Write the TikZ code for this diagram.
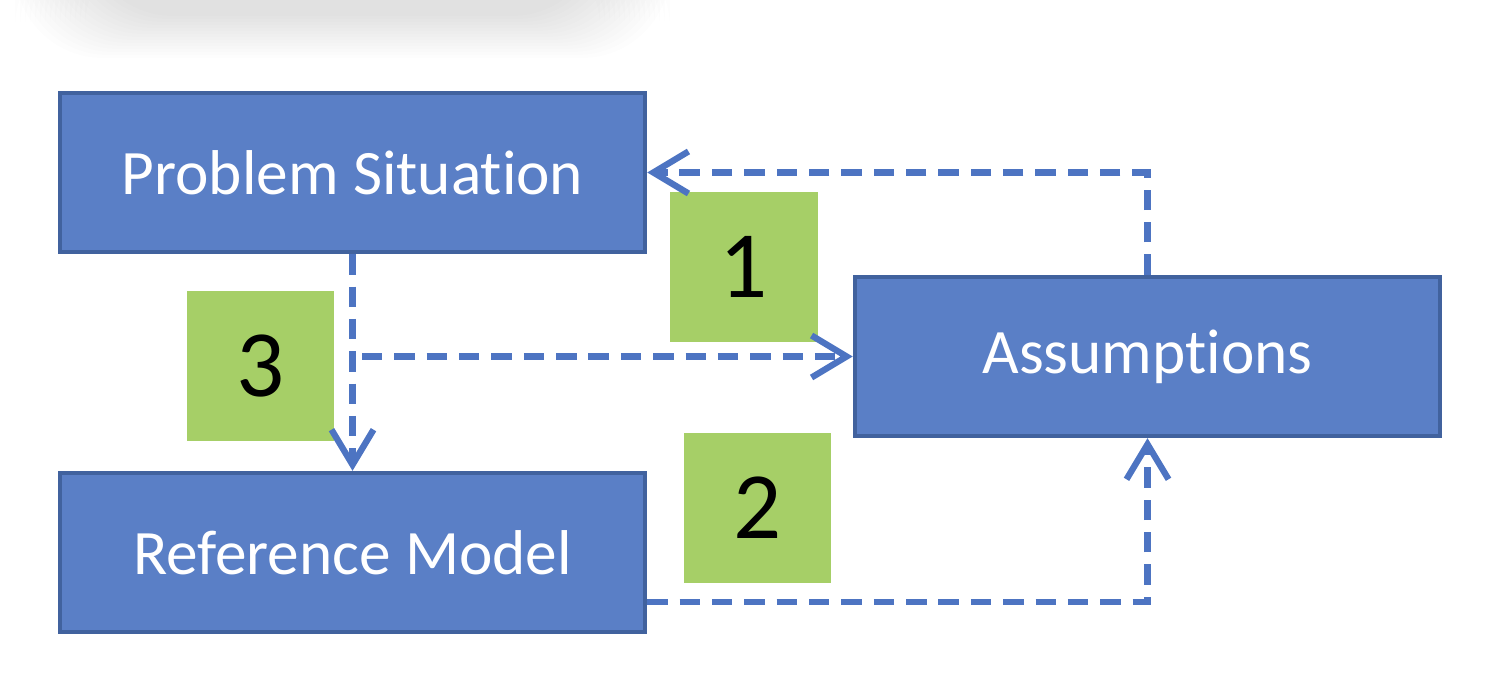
\documentclass[tikz,border=0pt]{standalone}
\usepackage{fontspec}
\setmainfont[Ligatures=NoCommon]{Carlito}
\usepackage{tikz}
\usetikzlibrary{arrows.meta, positioning, calc}
\definecolor{boxblue}{HTML}{5A7FC6}
\definecolor{boxedge}{HTML}{41629E}
\definecolor{tagreen}{HTML}{A6CF67}
\definecolor{linkblue}{HTML}{4D74C2}
\tikzstyle{block} = [rectangle, minimum width=5.85cm, minimum height=1.59cm, text centered, draw=boxedge, line width=1.2pt, fill=boxblue, text=white, font=\fontsize{18}{22}\selectfont]
\tikzstyle{tag} = [rectangle, minimum width=1.47cm, minimum height=1.5cm, text centered, fill=tagreen, text=black, font=\fontsize{27}{32}\selectfont]
\tikzstyle{link} = [draw=linkblue, line width=1.8pt, dash pattern=on 5.8pt off 3.4pt, -{Straight Barb[length=3.5mm, width=4.2mm, line width=1.8pt]}]

\begin{document}
\begin{tikzpicture}[x=0.01cm, y=-0.01cm]
\useasboundingbox (0,0) rectangle (1504,692);
\fill[white] (0,0) rectangle (1504,692);

% faint shadow at the top
\foreach \i in {0,...,14}
  \fill[black, opacity=0.007, rounded corners=25pt] (15+5*\i,-60) rectangle (670-5*\i,58-3*\i);

% boxes
\node (ps) [block] at (352.5,172.5) {Problem Situation};
\node (asm) [block] at (1147.5,356.5) {Assumptions};
\node (rm) [block] at (352.5,552.5) {Reference Model};

% numbers
\node (n1) [tag] at (744,267) {1};
\node (n3) [tag] at (260.5,366) {3};
\node (n2) [tag] at (757.5,508) {2};

% links
\coordinate (split) at (362,356.5);
\draw [link] (asm.north) |- (ps.east);
\draw [link] (ps.south) -- (rm.north);
\draw [link] (split) -- (asm.west);
\draw [link] ($(rm.south east)+(0,-32)$) -| (asm.south);

\end{tikzpicture}
\end{document}
